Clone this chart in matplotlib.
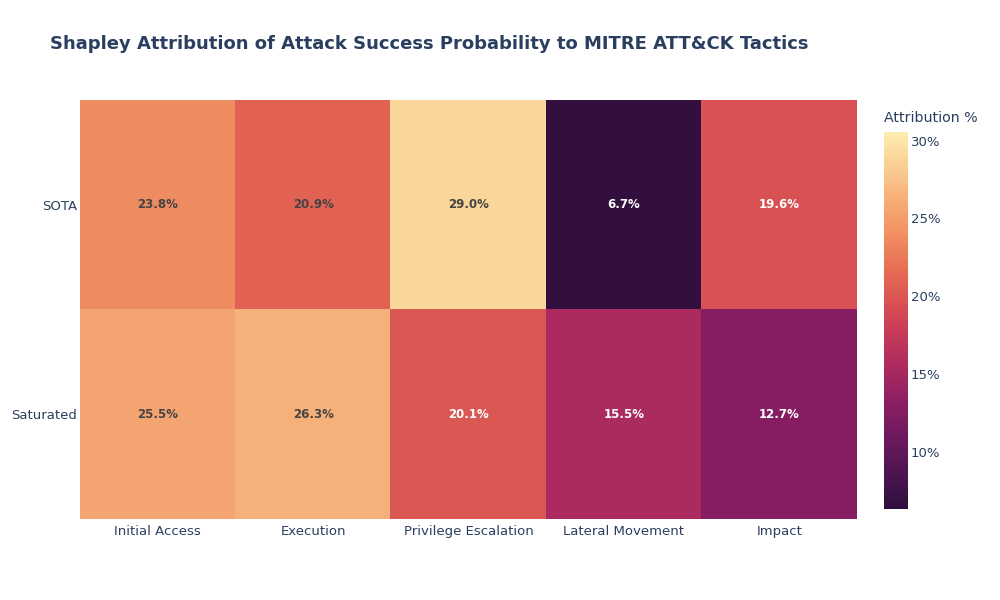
import matplotlib
matplotlib.use("Agg")
import matplotlib.pyplot as plt
import numpy as np
from matplotlib.colors import LinearSegmentedColormap, Normalize

# --- data ---
tactics = ["Initial Access", "Execution", "Privilege Escalation", "Lateral Movement", "Impact"]
scenarios = ["SOTA", "Saturated"]
sota_vals = [23.8, 20.9, 29.0, 6.7, 19.6]
saturated_vals = [25.5, 26.3, 20.1, 15.5, 12.7]

# matter (cmocean) reversed: dark purple -> pale yellow
matter = ["#fdedb0", "#facd91", "#f6ad77", "#f08e62", "#e76d54", "#d85053",
          "#c3385a", "#a82860", "#8a1d63", "#6b185d", "#4c1550", "#2f0f3d"]
cmap = LinearSegmentedColormap.from_list("matter_r", matter[::-1])
norm = Normalize(vmin=6.36, vmax=30.55)

TXT = "#2a3f5f"
plt.rcParams["font.family"] = "DejaVu Sans"

fig = plt.figure(figsize=(10, 6), dpi=100)
ax = fig.add_axes([0.08, 0.135, 0.777, 0.698])
z = np.array([sota_vals, saturated_vals])
im = ax.imshow(z, cmap=cmap, norm=norm, aspect="auto", interpolation="nearest")

for i in range(z.shape[0]):
    for j in range(z.shape[1]):
        r, g, b, _ = cmap(norm(z[i, j]))
        lum = 0.299 * r + 0.587 * g + 0.114 * b
        col = "#444444" if lum > 0.5 else "white"
        ax.text(j, i, f"{z[i, j]:.1f}%", ha="center", va="center",
                fontsize=8.5, fontweight="bold", color=col)

ax.set_xticks(range(len(tactics)))
ax.set_xticklabels(tactics, fontsize=9.5, color=TXT)
ax.set_yticks(range(len(scenarios)))
ax.set_yticklabels(scenarios, fontsize=9.5, color=TXT)
ax.tick_params(axis="y", length=0, pad=2)
ax.tick_params(axis="x", length=0, pad=4)
for s in ax.spines.values():
    s.set_visible(False)

cax = fig.add_axes([0.884, 0.152, 0.024, 0.628])
cb = fig.colorbar(im, cax=cax)
cb.set_ticks([10, 15, 20, 25, 30])
cb.set_ticklabels(["10%", "15%", "20%", "25%", "30%"])
cb.ax.tick_params(length=0, labelsize=9.5, labelcolor=TXT, pad=2)
cb.outline.set_visible(False)
fig.text(0.884, 0.803, "Attribution %", fontsize=10.2, color=TXT, va="center")

fig.text(0.05, 0.927, "Shapley Attribution of Attack Success Probability to MITRE ATT&CK Tactics",
         fontsize=13, fontweight="bold", color=TXT, va="center")

fig.savefig("out.png", dpi=100)
